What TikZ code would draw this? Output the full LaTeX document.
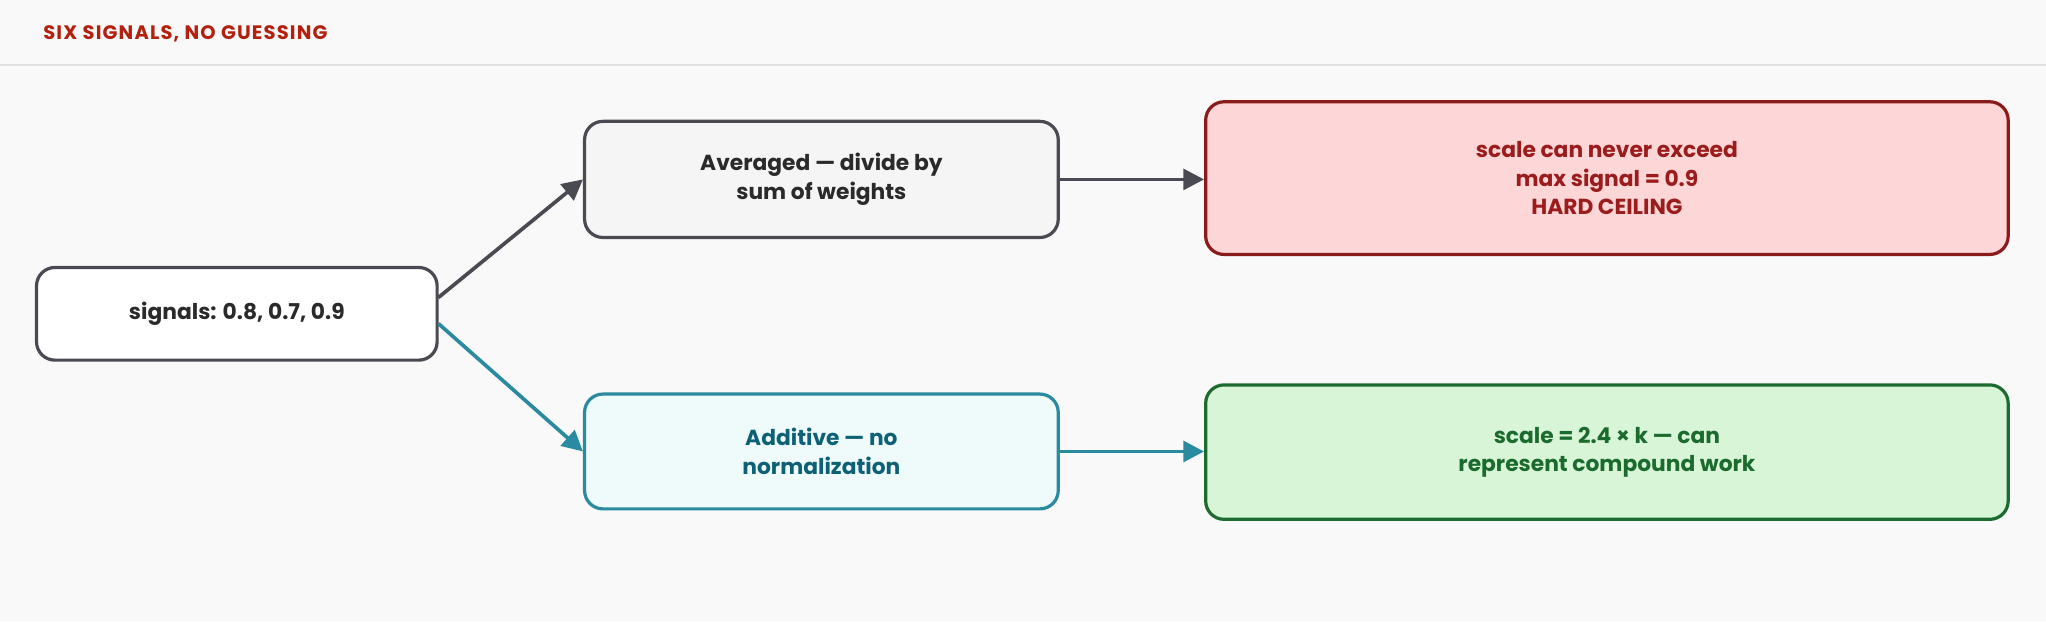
\documentclass[tikz,border=0pt]{standalone}
\usepackage{fontspec}
\setmainfont{Poppins}
\usetikzlibrary{arrows.meta}
\definecolor{bg}{HTML}{F9F9F9}
\definecolor{gline}{HTML}{E0E0E0}
\definecolor{ttl}{HTML}{B3200E}
\definecolor{dk}{HTML}{4A4A52}
\definecolor{txt}{HTML}{2A2A2A}
\definecolor{redf}{HTML}{FDD7D7}
\definecolor{reds}{HTML}{8B1A1A}
\definecolor{redt}{HTML}{9B1C1C}
\definecolor{tealf}{HTML}{EFFAFB}
\definecolor{teals}{HTML}{2A8AA0}
\definecolor{tealt}{HTML}{0E6175}
\definecolor{grnf}{HTML}{D8F5D8}
\definecolor{grns}{HTML}{1E6B30}
\definecolor{grnt}{HTML}{1B6B2E}
\begin{document}
\begin{tikzpicture}[x=0.02cm,y=-0.02cm,
  box/.style={draw, line width=1.4pt, rounded corners=8pt, align=center, font=\fontsize{9.5}{12.5}\selectfont\bfseries, inner sep=0pt},
  arr/.style={line width=1.6pt, -{Triangle[length=9pt,width=9pt]}}]
\fill[bg] (0,0) rectangle (1568,476);
\useasboundingbox (0,0) rectangle (1568,476);
\draw[gline, line width=1pt] (0,50) -- (1568,50);
\node[anchor=west, text=ttl, font=\fontsize{8.5}{10}\selectfont\bfseries\addfontfeatures{LetterSpace=6}] (title) at (27,26) {SIX SIGNALS, NO GUESSING};
\node[box, fill=white, draw=dk, text=txt, minimum width=307*0.02cm, minimum height=71*0.02cm] (sig) at (181.5,240.5) {signals: 0.8, 0.7, 0.9};
\node[box, fill=black!4, draw=dk, text=txt, minimum width=363*0.02cm, minimum height=89*0.02cm] (avg) at (629.5,137.5) {Averaged — divide by\\sum of weights};
\node[box, fill=redf, draw=reds, text=redt, minimum width=615*0.02cm, minimum height=117*0.02cm] (ceil) at (1231.5,136.5) {scale can never exceed\\max signal = 0.9\\HARD CEILING};
\node[box, fill=tealf, draw=teals, text=tealt, minimum width=363*0.02cm, minimum height=88*0.02cm] (add) at (629.5,346) {Additive — no\\normalization};
\node[box, fill=grnf, draw=grns, text=grnt, minimum width=615*0.02cm, minimum height=103*0.02cm] (cmp) at (1231.5,346.5) {scale = 2.4 × k — can\\represent compound work};
\coordinate (s1) at (336,228);
\coordinate (s2) at (336,248);
\draw[arr, dk] (s1) -- (avg.west);
\draw[arr, teals] (s2) -- (add.west);
\draw[arr, dk] (avg.east) -- (ceil.west |- avg.east);
\draw[arr, teals] (add.east) -- (cmp.west |- add.east);
\end{tikzpicture}
\end{document}
